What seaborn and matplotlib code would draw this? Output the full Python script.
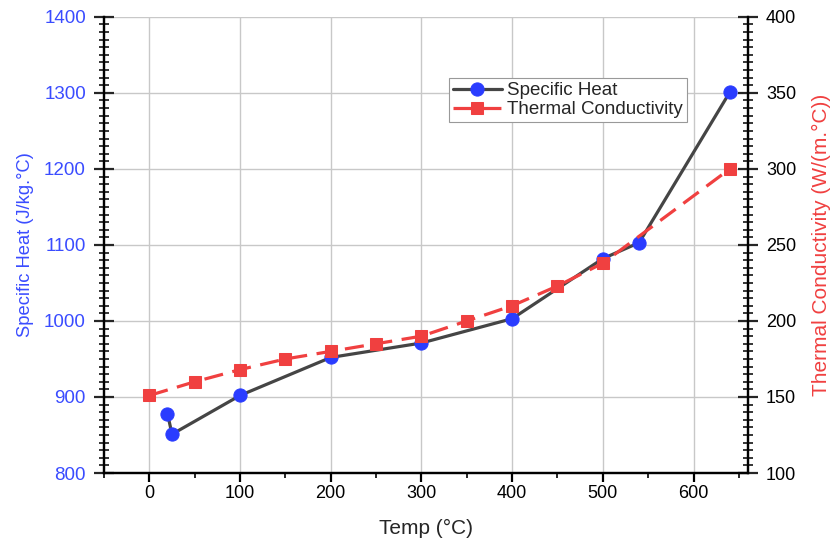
import numpy as np
import pandas as pd
import matplotlib
matplotlib.use("Agg")
import matplotlib.pyplot as plt
from matplotlib.ticker import MultipleLocator
import seaborn as sns

# Specific heat vs temperature (left axis)
cp_temp = [20, 25, 100, 200, 300, 400, 500, 540, 640]
cp_value = [878, 851, 902, 952, 971, 1003, 1082, 1103, 1301]

# Thermal conductivity vs temperature (right axis)
k_temp = [0, 50, 100, 150, 200, 250, 300, 350, 400, 450, 500, 640]
k_value = [151, 160, 168, 175, 180, 185, 190, 200, 210, 223, 238, 300]

x_ticks = [0, 100, 200, 300, 400, 500, 600]
left_ticks = [800, 900, 1000, 1100, 1200, 1300, 1400]
right_ticks = [100, 150, 200, 250, 300, 350, 400]

sns.set_style("ticks")
plt.rcParams["font.family"] = ["Liberation Sans", "DejaVu Sans"]

BLUE = "#2a3cff"
GRAY = "#454545"
RED = "#f04040"
LBLUE = "#3a4cff"

fig = plt.figure(figsize=(8.32, 5.44), dpi=100)
ax = fig.add_axes([0.125, 0.1305, 0.774, 0.8385])
ax2 = ax.twinx()

cp_df = pd.DataFrame({"Temp": cp_temp, "Cp": cp_value})
k_df = pd.DataFrame({"Temp": k_temp, "K": k_value})

sns.lineplot(data=cp_df, x="Temp", y="Cp", ax=ax, color=GRAY, lw=2.3,
             marker="o", markersize=9.5, markerfacecolor=BLUE,
             markeredgecolor=BLUE, label="Specific Heat", legend=False,
             sort=False, zorder=3)
sns.lineplot(data=k_df, x="Temp", y="K", ax=ax2, color=RED, lw=2.3,
             marker="s", markersize=8, markerfacecolor=RED,
             markeredgecolor=RED, label="Thermal Conductivity",
             legend=False, sort=False, zorder=3)
ax2.lines[0].set_dashes((6, 3))

ax.set_xlim(-50, 660)
ax.set_ylim(800, 1400)
ax2.set_ylim(100, 400)

ax.set_xticks(x_ticks)
ax.set_yticks(left_ticks)
ax2.set_yticks(right_ticks)
ax.xaxis.set_minor_locator(MultipleLocator(50))
ax.yaxis.set_minor_locator(MultipleLocator(10))
ax2.yaxis.set_minor_locator(MultipleLocator(5))

ax.grid(True, which="major", color="#c8c8c8", lw=1.0)
ax.set_axisbelow(True)

for a in (ax, ax2):
    a.spines["top"].set_visible(False)
    for s in a.spines.values():
        s.set_linewidth(1.6)
        s.set_color("black")

ax.tick_params(axis="x", which="major", direction="out", length=6.5, width=1.6,
               labelsize=13, colors="black", pad=2)
ax.tick_params(axis="x", which="minor", direction="out", length=3.5, width=1.4)
ax.tick_params(axis="y", which="major", direction="inout", length=14, width=1.6,
               labelsize=13.5, labelcolor=LBLUE, pad=6)
ax.tick_params(axis="y", which="minor", direction="inout", length=7, width=1.3)
ax2.tick_params(axis="y", which="major", direction="inout", length=14, width=1.6,
                labelsize=13, labelcolor="black", pad=6)
ax2.tick_params(axis="y", which="minor", direction="inout", length=7, width=1.3)

ax.set_xlabel("Temp (°C)", fontsize=15, labelpad=12)
ax.set_ylabel("Specific Heat (J/kg.°C)", fontsize=13.2, color=LBLUE, labelpad=7.5)
ax2.set_ylabel("Thermal Conductivity (W/(m.°C))", fontsize=15, color=RED,
               labelpad=11.5)

handles = ax.get_lines()[:1] + ax2.get_lines()[:1]
leg = ax2.legend(handles, [h.get_label() for h in handles],
                 loc="upper left", bbox_to_anchor=(0.536, 0.865),
                 fontsize=13.5, frameon=True, fancybox=False,
                 edgecolor="#999999", framealpha=1, borderpad=0.2,
                 handlelength=2.6, handletextpad=0.3, labelspacing=0.1,
                 borderaxespad=0)
leg.get_frame().set_linewidth(0.8)

fig.savefig("out.png", dpi=100)
